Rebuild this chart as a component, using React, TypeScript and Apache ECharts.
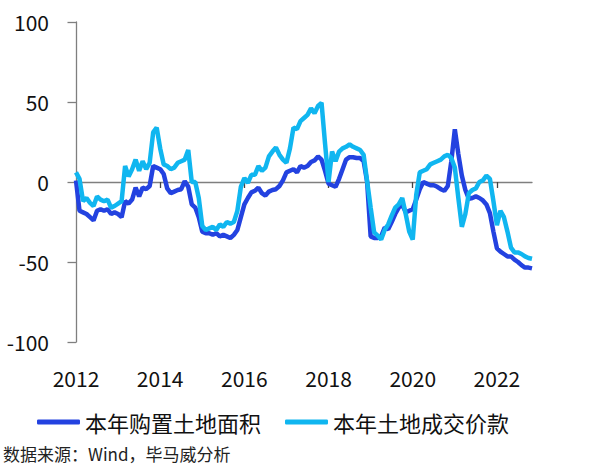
import React, { useEffect, useRef } from "react";
import * as echarts from "echarts";

const START_YEAR = 2012;
const SERIES_NAMES = ["本年购置土地面积", "本年土地成交价款"];
const SERIES_COLORS = ["#2342e0", "#10b6f0"];
const SOURCE_TEXT = "数据来源：Wind，毕马威分析";
const X_TICK_YEARS = [2012, 2014, 2016, 2018, 2020, 2022];

// 本年购置土地面积 累计同比 (%) monthly, Jan 2012 – Nov 2022
const areaYoY = [
  1, -18, -19, -20, -22, -24, -18, -17, -18, -17, -20, -19,
  -20, -22, -12, -13.5, -11, -3.5, -9, -3.5, -4.5, -2.5, 10, 9,
  8, 5, -4, -7, -6, -5, -4.5, 0.5, -3, -14, -16, -22,
  -31, -32, -32, -33, -32, -34, -33, -34, -35, -33, -30, -22,
  -14, -10, -6.5, -5.5, -3.5, -7, -8.5, -6, -5, -4.5, -2.5, 1,
  6, 7, 8, 6, 10, 9, 10, 12.5, 13.5, 16, 14, 7,
  -1, -2, -3, 2, 8, 14, 15.5, 15.5, 15, 15, 13, 0,
  -34, -35, -35, -34, -28.5, -29.5, -25, -20, -16, -14, -19, -18,
  -17, -11, -4.5, 0, -1, -2, -2, -3, -4.5, -5.5, -2.5, 13,
  33, 17.5, 4, -5, -10.5, -10, -9, -10, -11.5, -14, -19.5, -31,
  -41.5, -43.5, -45, -46.5, -46.5, -48.5, -50, -52, -53.5, -53.5, -54,
];

// 本年土地成交价款 累计同比 (%) monthly, Jan 2012 – Nov 2022
const priceYoY = [
  6, 2, -12, -10, -13, -15, -9, -11, -12, -11, -16, -15,
  -13.5, -12, 10, 3.5, 8, 14, 7, 13, 8, 12, 31, 34,
  21, 11, 10, 8, 9, 12, 13, 14, 20, 0, 0, -10,
  -27.5, -30, -29, -28, -30, -26.5, -28, -25, -26, -25, -18, -3,
  2.5, -0.5, 4.5, 4.5, 10, 7, 9, 16, 19, 21.5, 17, 14,
  12, 21, 34, 33, 38, 40, 42, 46, 43, 47.5, 49.5, 24,
  0, 19, 13, 19, 21, 22, 23.5, 22, 21, 20, 17, 0.5,
  -16, -31.5, -33.5, -36, -30, -26.5, -21, -16, -14, -10, -20, -31,
  -36, -8, 6, 7, 8, 11, 12, 13, 14, 16, 17, 15,
  9, -10, -28, -20, -7, -5, -4, 0, 1, 4, 2, -12,
  -27, -18, -22, -31, -41, -44, -44, -45, -46.5, -47.5, -48,
];

const Y_MIN = -100;
const Y_MAX = 100;
const Y_INTERVAL = 50;
const X_INTERVAL = 2;

const FONT = '"Noto Sans CJK SC", "Noto Sans", sans-serif';

function toPoints(values: number[]) {
  return values.map((v, i) => [START_YEAR + i / 12, v]);
}

export default function App() {
  const ref = useRef<HTMLDivElement>(null);

  useEffect(() => {
    if (!ref.current) return;
    const chart = echarts.init(ref.current, undefined, { renderer: "svg" });
    const xMax = START_YEAR + (areaYoY.length - 1) / 12;
    const axisColor = "#7f7f7f";
    chart.setOption({
      animation: false,
      textStyle: { fontFamily: FONT },
      grid: { left: 76, right: 68, top: 22, bottom: 132, containLabel: false },
      legend: {
        left: 32,
        top: 406,
        itemWidth: 43,
        itemHeight: 5,
        itemGap: 24,
        icon: "roundRect",
        textStyle: { fontSize: 22, color: "#111", fontFamily: FONT },
        data: SERIES_NAMES,
      },
      xAxis: [
        {
          type: "value",
          position: "bottom",
          min: START_YEAR,
          max: xMax,
          interval: X_INTERVAL,
          axisLine: { show: false, onZero: false },
          axisTick: { show: false },
          splitLine: { show: false },
          axisLabel: {
            fontSize: 21,
            color: "#111",
            margin: 25,
            fontFamily: FONT,
            customValues: X_TICK_YEARS,
            formatter: (v: number) => String(Math.round(v)),
          },
        },
        {
          type: "value",
          position: "bottom",
          min: START_YEAR,
          max: xMax,
          interval: X_INTERVAL,
          axisLine: { show: true, onZero: true, lineStyle: { color: axisColor, width: 1.3 } },
          axisTick: {
            show: true,
            length: 6,
            customValues: X_TICK_YEARS,
            lineStyle: { color: "#444", width: 1.3 },
          },
          splitLine: { show: false },
          axisLabel: { show: false },
        },
      ],
      yAxis: {
        type: "value",
        min: Y_MIN,
        max: Y_MAX,
        interval: Y_INTERVAL,
        axisLine: { show: true, lineStyle: { color: axisColor, width: 1.3 } },
        axisTick: { show: true, length: 8.5, lineStyle: { color: axisColor, width: 1.3 } },
        splitLine: { show: false },
        axisLabel: { fontSize: 21, color: "#111", margin: 27, fontFamily: FONT },
      },
      series: [
        {
          name: SERIES_NAMES[0],
          type: "line",
          xAxisIndex: 0,
          data: toPoints(areaYoY),
          symbol: "none",
          lineStyle: { width: 4.5, color: SERIES_COLORS[0] },
          itemStyle: { color: SERIES_COLORS[0] },
        },
        {
          name: SERIES_NAMES[1],
          type: "line",
          xAxisIndex: 0,
          data: toPoints(priceYoY),
          symbol: "none",
          lineStyle: { width: 4.5, color: SERIES_COLORS[1] },
          itemStyle: { color: SERIES_COLORS[1] },
        },
      ],
      graphic: [
        {
          type: "text",
          left: 3,
          top: 445,
          style: { text: SOURCE_TEXT, fontSize: 17, fill: "#222", fontFamily: FONT },
        },
      ],
    });
    return () => chart.dispose();
  }, []);

  return (
    <div
      ref={ref}
      style={{ position: "absolute", left: 0, top: 0, width: 600, height: 474 }}
    />
  );
}
